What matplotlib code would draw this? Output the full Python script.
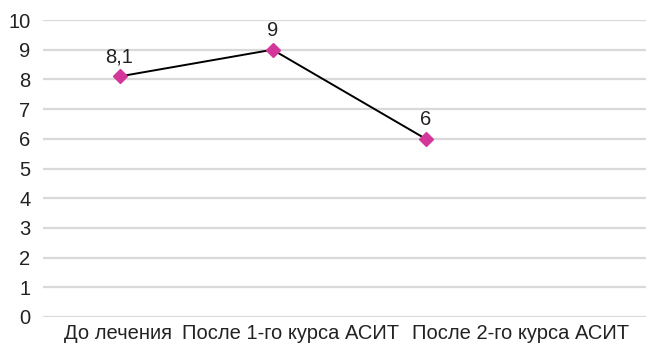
import matplotlib.pyplot as plt
from matplotlib import font_manager

stages = ['До лечения', 'После 1-го курса АСИТ', 'После 2-го курса АСИТ']
values = [8.1, 9, 6]
value_labels = ['8,1', '9', '6']
yticks = list(range(0, 11))

names = {f.name for f in font_manager.fontManager.ttflist}
narrow = 'Liberation Sans Narrow' if 'Liberation Sans Narrow' in names else 'Liberation Sans'
plt.rcParams['font.family'] = [narrow, 'DejaVu Sans']

fig = plt.figure(figsize=(6.46, 3.49), dpi=100)
ax = fig.add_axes([43 / 646, 32 / 349, 603 / 646, 297 / 349])

x = list(range(len(stages)))
ax.plot(x, values, color='black', lw=1.4, zorder=3)
ax.plot(x, values, ls='none', marker='D', ms=7, color='#d4379a', zorder=4)

for xi, v, lab in zip(x, values, value_labels):
    ax.annotate(lab, (xi, v), xytext=(0, 7), textcoords='offset points',
                ha='center', va='bottom', fontsize=14.5, color='#222222')

ax.set_xlim(-0.5, 3.44)
ax.set_ylim(0, 10)
ax.set_yticks(yticks)
ax.yaxis.grid(True, color='#d9d9d9', lw=1.6)
ax.set_axisbelow(True)

# подписи категорий сдвинуты относительно точек
ax.set_xticks([-0.01, 1.12, 2.62])
ax.set_xticklabels(stages)
ax.tick_params(axis='x', length=0, pad=5, labelsize=14.5, labelcolor='#222222')
ax.tick_params(axis='y', length=0, pad=9, labelsize=14.5, labelcolor='#222222')

for s in ax.spines.values():
    s.set_visible(False)

fig.savefig('out.png', dpi=100)
